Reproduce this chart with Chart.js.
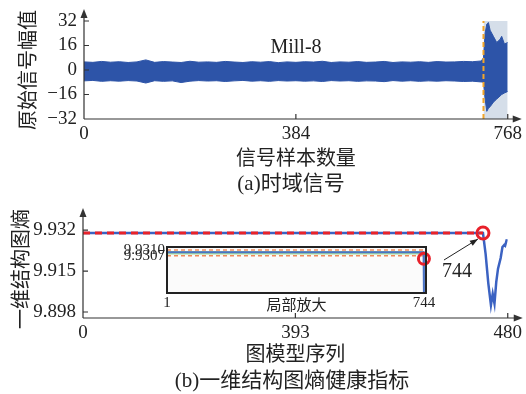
<!DOCTYPE html>
<html><head><meta charset="utf-8">
<script src="https://cdn.jsdelivr.net/npm/chart.js@4/dist/chart.umd.min.js"></script>
<style>
body{margin:0;background:#fff;width:526px;height:394px;position:relative;overflow:hidden}
canvas{position:absolute}
.t{position:absolute;transform:translate(-50%,-50%);white-space:nowrap;line-height:1;color:#222;font-family:'Liberation Serif','Noto Sans CJK SC',serif}
</style></head><body>
<canvas id="cA" width="526" height="170" style="left:0px;top:0px"></canvas>
<canvas id="cB" width="526" height="180" style="left:0px;top:190px"></canvas>
<canvas id="cI" width="340" height="80" style="left:100px;top:236px"></canvas>
<div class="t" style="left:296px;top:46px;font-size:20px">Mill-8</div>
<div class="t" style="left:291px;top:183px;font-size:21px">(a)时域信号</div>
<div class="t" style="left:292px;top:380px;font-size:21px">(b)一维结构图熵健康指标</div>
<div class="t" style="left:457px;top:270px;font-size:20px">744</div>
<script>
// ---------- (a) time-domain signal ----------
const sampleSteady = [0,16,32,48,64,80,96,112,128,144,160,176,192,208,224,240,256,272,288,304,320,336,352,368,384,400,416,432,448,464,480,496,512,528,544,560,576,592,608,624,640,656,672,688,704,720];
const upperSteady = [5.3,5.0,5.6,5.1,5.4,4.9,5.3,6.6,5.0,5.5,5.2,4.9,5.7,5.1,5.3,5.0,5.6,5.2,4.9,5.4,5.1,5.5,4.8,5.3,5.0,5.4,5.2,5.7,4.9,5.3,5.1,5.5,5.0,5.2,5.6,4.9,5.3,5.1,5.4,5.0,5.5,5.2,5.3,5.6,5.4,5.9];
const lowerSteady = [-7.1,-6.8,-7.4,-7.0,-7.3,-6.9,-7.2,-8.5,-7.0,-7.4,-7.1,-8.2,-7.3,-6.9,-7.2,-7.0,-7.5,-7.1,-6.8,-7.3,-7.0,-7.4,-6.9,-7.2,-7.0,-7.3,-7.1,-7.5,-6.9,-7.2,-7.0,-7.4,-7.1,-7.2,-7.6,-6.9,-7.3,-7.0,-7.4,-7.1,-7.3,-7.0,-7.2,-7.5,-7.3,-7.8];
const sampleFault = [724,727,730,733,736,742,748,754,757,762,768];
const upperFault = [8,24,30,31,26,22,18,20,22,17,18];
const lowerFault = [-8,-19,-27,-25,-24,-21,-19,-17,-16,-15,-14];
const faultStart = 724, sampleMax = 768;
const xTicksA = [0,384,768];
const yTicksA = [-32,-16,0,16,32];
const yLabelsA = ['\u221232','\u221216','0','16','32'];

// ---------- (b) entropy health index ----------
const graphIdx = [0,452,455,458,461,463,465,467,469,472,474,476,477,479];
const entropy = [9.9308,9.9308,9.922,9.910,9.9009,9.9055,9.9015,9.9104,9.916,9.9204,9.925,9.9258,9.9255,9.9282];
const thresholdLevel = 9.9308, thresholdEnd = 452;
const markIdx = 452, markVal = 9.9308;
const xTicksB = [0,240,480];
const xLabelsB = ['0','393','480'];
const yTicksB = [9.898,9.915,9.932];

// ---------- inset (局部放大) ----------
const insetIdx = [1,743,744,744];
const insetVal = [9.93088,9.93088,9.9306,9.9288];
const insetBandTop = 9.93095, insetBandBottom = 9.93077;
const insetUpper = 9.9310, insetLower = 9.9307;
const insetMark = {x:744, y:9.93055};
const xTicksI = [1,744];
const yTicksI = [9.9307,9.9310];
const yLabelsI = ['9.9307','9.9310'];

Chart.defaults.font.family = "'Liberation Serif','Noto Sans CJK SC',serif";
Chart.defaults.color = '#222';
const CJK = "'Noto Sans CJK SC','Liberation Serif',sans-serif";

const axisDeco = {
  id:'axisDeco',
  afterDatasetsDraw(chart, args, o){
    const {ctx, chartArea:a, scales} = chart;
    const ext = chart.config.options.axisExt;
    ctx.save();
    ctx.strokeStyle = '#333'; ctx.fillStyle = '#333'; ctx.lineWidth = 1.2;
    const topTip = a.top - ext.top, rightTip = a.right + ext.right;
    ctx.beginPath();
    ctx.moveTo(a.left, a.bottom); ctx.lineTo(a.left, topTip + 5);
    ctx.moveTo(a.left, a.bottom); ctx.lineTo(rightTip - 5, a.bottom);
    scales.y.ticks.forEach((t,i)=>{ const py = scales.y.getPixelForTick(i); if (Math.abs(py-a.bottom)<2) return; ctx.moveTo(a.left, py); ctx.lineTo(a.left+5, py); });
    scales.x.ticks.forEach((t,i)=>{ const px = scales.x.getPixelForTick(i); if (Math.abs(px-a.left)<2) return; ctx.moveTo(px, a.bottom); ctx.lineTo(px, a.bottom-5); });
    ctx.stroke();
    ctx.beginPath(); ctx.moveTo(a.left, topTip); ctx.lineTo(a.left-3.5, topTip+9); ctx.lineTo(a.left+3.5, topTip+9); ctx.closePath(); ctx.fill();
    ctx.beginPath(); ctx.moveTo(rightTip, a.bottom); ctx.lineTo(rightTip-9, a.bottom-3.5); ctx.lineTo(rightTip-9, a.bottom+3.5); ctx.closePath(); ctx.fill();
    if (chart.config.options.arrowNote) {
      const px = scales.x.getPixelForValue(markIdx), py = scales.y.getPixelForValue(markVal);
      const x0 = px-39, y0 = py+27, x1 = px-5, y1 = py+6;
      ctx.lineWidth = 1; ctx.strokeStyle = '#222'; ctx.fillStyle = '#222';
      ctx.beginPath(); ctx.moveTo(x0,y0); ctx.lineTo(x1,y1); ctx.stroke();
      const ang = Math.atan2(y1-y0, x1-x0);
      ctx.beginPath(); ctx.moveTo(x1,y1);
      ctx.lineTo(x1-8*Math.cos(ang)+3*Math.sin(ang), y1-8*Math.sin(ang)-3*Math.cos(ang));
      ctx.lineTo(x1-8*Math.cos(ang)-3*Math.sin(ang), y1-8*Math.sin(ang)+3*Math.cos(ang));
      ctx.closePath(); ctx.fill();
    }
    ctx.restore();
  }
};

const insetBox = {
  id:'insetBox',
  beforeDatasetsDraw(chart){
    const {ctx, chartArea:a} = chart;
    ctx.save(); ctx.fillStyle = '#fbfbfb'; ctx.fillRect(a.left, a.top, a.right-a.left, a.bottom-a.top); ctx.restore();
  },
  afterDatasetsDraw(chart){
    const {ctx, chartArea:a} = chart;
    ctx.save(); ctx.strokeStyle = '#222'; ctx.lineWidth = 2; ctx.strokeRect(a.left, a.top, a.right-a.left, a.bottom-a.top); ctx.restore();
  }
};

const pts = (xs, ys) => xs.map((x,i)=>({x, y:ys[i]}));
const base = {responsive:false, animation:false, devicePixelRatio:1, plugins:{legend:{display:false}, tooltip:{enabled:false}}, elements:{point:{radius:0}, line:{tension:0}}};

// Chart (a)
new Chart(document.getElementById('cA'), {
  type:'line',
  data:{datasets:[
    {data:[{x:faultStart,y:32},{x:sampleMax,y:32}], fill:'start', backgroundColor:'#d5dee9', borderWidth:0, order:5},
    {data:pts(sampleSteady.concat(sampleFault), upperSteady.concat(upperFault)), fill:'+1', backgroundColor:'#2d54a8', borderColor:'#2d54a8', borderWidth:1, order:2},
    {data:pts(sampleSteady.concat(sampleFault), lowerSteady.concat(lowerFault)), fill:false, borderColor:'#2d54a8', borderWidth:1, order:3},
    {data:[{x:faultStart,y:-32},{x:faultStart,y:32}], borderColor:'#f2a62a', borderWidth:2, borderDash:[5,3], fill:false, order:0}
  ]},
  options:{...base, axisExt:{top:12,right:14},
    layout:{padding:{left:0,right:17,top:21,bottom:0}},
    scales:{
      x:{type:'linear', min:0, max:sampleMax, afterBuildTicks:s=>{s.ticks=xTicksA.map(v=>({value:v}));},
        grid:{display:false, drawTicks:false}, border:{display:false},
        ticks:{autoSkip:false, maxRotation:0, padding:4, font:{size:19}},
        title:{display:true, text:'信号样本数量', font:{size:20, family:CJK}, padding:{top:0,bottom:1}},
        afterFit:s=>{s.height=51;}},
      y:{type:'linear', min:-32, max:32, afterBuildTicks:s=>{s.ticks=yTicksA.map(v=>({value:v}));},
        grid:{display:false, drawTicks:false}, border:{display:false},
        ticks:{autoSkip:false, padding:7, font:{size:19}, callback:(v,i)=>yLabelsA[i]},
        title:{display:true, text:'原始信号幅值', font:{size:20, family:CJK}, padding:{top:15,bottom:0}},
        afterFit:s=>{s.width=84;}}
    }},
  plugins:[axisDeco]
});

// Chart (b)
new Chart(document.getElementById('cB'), {
  type:'line',
  data:{datasets:[
    {data:pts(graphIdx, entropy), borderColor:'#3b62c2', borderWidth:2.5, fill:false, order:2},
    {data:[{x:0,y:thresholdLevel},{x:thresholdEnd,y:thresholdLevel}], borderColor:'#e8232a', borderWidth:3, borderDash:[7,5], fill:false, order:1},
    {data:[{x:markIdx,y:markVal}], showLine:false, pointRadius:6, pointBorderWidth:3, pointBorderColor:'#e8202a', pointBackgroundColor:'rgba(0,0,0,0)', clip:false, order:0}
  ]},
  options:{...base, axisExt:{top:12,right:15}, arrowNote:true,
    layout:{padding:{left:0,right:18,top:30,bottom:0}},
    scales:{
      x:{type:'linear', min:0, max:480, afterBuildTicks:s=>{s.ticks=xTicksB.map(v=>({value:v}));},
        grid:{display:false, drawTicks:false}, border:{display:false},
        ticks:{autoSkip:false, maxRotation:0, padding:4, font:{size:19}, callback:(v,i)=>xLabelsB[i]},
        title:{display:true, text:'图模型序列', font:{size:20, family:CJK}, padding:{top:0,bottom:5}},
        afterFit:s=>{s.height=52;}},
      y:{type:'linear', min:9.8955, max:9.9362, afterBuildTicks:s=>{s.ticks=yTicksB.map(v=>({value:v}));},
        grid:{display:false, drawTicks:false}, border:{display:false},
        ticks:{autoSkip:false, padding:7, font:{size:19}, callback:v=>v.toFixed(3)},
        title:{display:true, text:'一维结构图熵', font:{size:20, family:CJK}, padding:{top:8,bottom:0}},
        afterFit:s=>{s.width=83;}}
    }},
  plugins:[axisDeco]
});

// Inset
new Chart(document.getElementById('cI'), {
  type:'line',
  data:{datasets:[
    {data:[{x:1,y:insetBandTop},{x:744,y:insetBandTop}], fill:'+1', backgroundColor:'rgba(120,200,110,0.65)', borderWidth:0, order:5},
    {data:[{x:1,y:insetBandBottom},{x:744,y:insetBandBottom}], fill:false, borderWidth:0, order:6},
    {data:[{x:1,y:insetUpper},{x:744,y:insetUpper}], borderColor:'#f08a5a', borderWidth:1.5, borderDash:[4,3], fill:false, order:3},
    {data:[{x:1,y:insetLower},{x:744,y:insetLower}], borderColor:'#f08a5a', borderWidth:1.5, borderDash:[4,3], fill:false, order:3},
    {data:pts(insetIdx, insetVal), borderColor:'#4a72c4', borderWidth:2, fill:false, order:2},
    {data:[insetMark], showLine:false, pointRadius:5.5, pointBorderWidth:3, pointBorderColor:'#e8202a', pointBackgroundColor:'rgba(0,0,0,0)', clip:false, order:0}
  ]},
  options:{...base,
    layout:{padding:{left:0,right:14,top:10,bottom:3}},
    scales:{
      x:{type:'linear', min:1, max:750, afterBuildTicks:s=>{s.ticks=xTicksI.map(v=>({value:v}));},
        grid:{display:false, drawTicks:false}, border:{display:false},
        ticks:{autoSkip:false, maxRotation:0, padding:1, font:{size:15}},
        title:{display:true, text:'局部放大', font:{size:15, family:CJK}, padding:{top:0,bottom:0}},
        afterFit:s=>{s.height=20;}},
      y:{type:'linear', min:9.9288, max:9.93115, afterBuildTicks:s=>{s.ticks=yTicksI.map(v=>({value:v}));},
        grid:{display:false, drawTicks:false}, border:{display:false},
        ticks:{autoSkip:false, padding:2, font:{size:15}, callback:(v,i)=>yLabelsI[i]},
        afterFit:s=>{s.width=67;}}
    }},
  plugins:[insetBox]
});
</script>
</body></html>
